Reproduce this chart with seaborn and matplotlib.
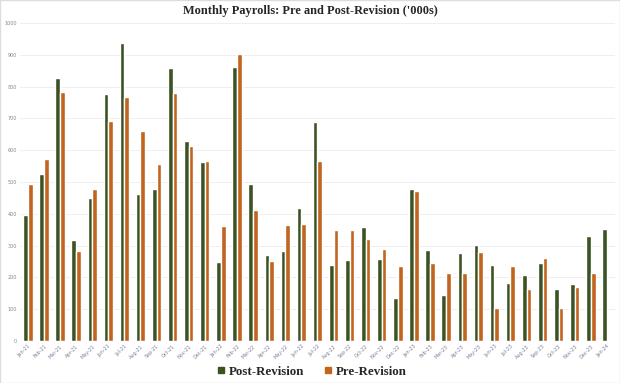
import pandas as pd
import numpy as np
import matplotlib.pyplot as plt
import seaborn as sns

months = ['Jan-21', 'Feb-21', 'Mar-21', 'Apr-21', 'May-21', 'Jun-21', 'Jul-21', 'Aug-21',
          'Sep-21', 'Oct-21', 'Nov-21', 'Dec-21', 'Jan-22', 'Feb-22', 'Mar-22', 'Apr-22',
          'May-22', 'Jun-22', 'Jul-22', 'Aug-22', 'Sep-22', 'Oct-22', 'Nov-22', 'Dec-22',
          'Jan-23', 'Feb-23', 'Mar-23', 'Apr-23', 'May-23', 'Jun-23', 'Jul-23', 'Aug-23',
          'Sep-23', 'Oct-23', 'Nov-23', 'Dec-23', 'Jan-24']

post_revision = [396, 525, 828, 317, 448, 776, 938, 463, 478, 858, 630, 564,
                 249, 861, 493, 270, 284, 417, 688, 240, 254, 358, 256, 134,
                 479, 285, 144, 277, 301, 238, 182, 208, 245, 163, 179, 330, 351]

pre_revision = [493, 573, 783, 284, 479, 693, 767, 661, 556, 780, 613, 567,
                362, 903, 412, 252, 363, 368, 566, 350, 348, 322, 288, 237,
                470, 245, 215, 215, 279, 103, 234, 163, 260, 103, 171, 215, np.nan]

series = ['Post-Revision', 'Pre-Revision']
colors = ['#3b5323', '#c0641e']

df = pd.DataFrame({'Month': months * 2,
                   'Value': post_revision + pre_revision,
                   'Series': [series[0]] * len(months) + [series[1]] * len(months)})

sns.set_style('white')
plt.rcParams['font.family'] = ['DejaVu Sans']

fig = plt.figure(figsize=(6.2, 3.83), dpi=100)
ax = fig.add_axes([0.032, 0.11, 0.96, 0.83])

sns.barplot(data=df, x='Month', y='Value', hue='Series', palette=colors,
            width=0.58, dodge=True, ax=ax, legend=False, saturation=1)

ax.set_ylim(0, 1000)
ax.set_xlim(-0.5, len(months) - 0.5)
ax.set_yticks(range(0, 1001, 100))
ax.set_yticklabels([str(v) for v in range(0, 1001, 100)], fontsize=3.5, color='#888888')
ax.set_xticks(range(len(months)))
ax.set_xticklabels(months, rotation=45, ha='right', rotation_mode='anchor',
                   fontsize=3.5, color='#7a7f99')
ax.tick_params(axis='both', length=0, pad=2)
ax.grid(axis='y', color='#ececec', linewidth=0.6)
ax.set_axisbelow(True)
for s in ax.spines.values():
    s.set_visible(False)
ax.set_xlabel('')
ax.set_ylabel('')

fig.suptitle("Monthly Payrolls: Pre and Post-Revision ('000s)", y=0.988,
             fontsize=8.9, fontweight='bold', family='Liberation Serif')

handles = [plt.Line2D([], [], marker='s', color=c, linestyle='', markersize=5) for c in colors]
fig.legend(handles, series, loc='center', bbox_to_anchor=(0.503, 0.03), ncol=2,
           frameon=False, handlelength=0.6, handletextpad=0.3, columnspacing=1.6,
           prop={'family': 'Liberation Serif', 'weight': 'bold', 'size': 9.3})

fig.patches.append(plt.Rectangle((0, 0), 1, 1, transform=fig.transFigure,
                                 fill=False, edgecolor='#dddddd', linewidth=1))

fig.savefig('out.png', dpi=100)
